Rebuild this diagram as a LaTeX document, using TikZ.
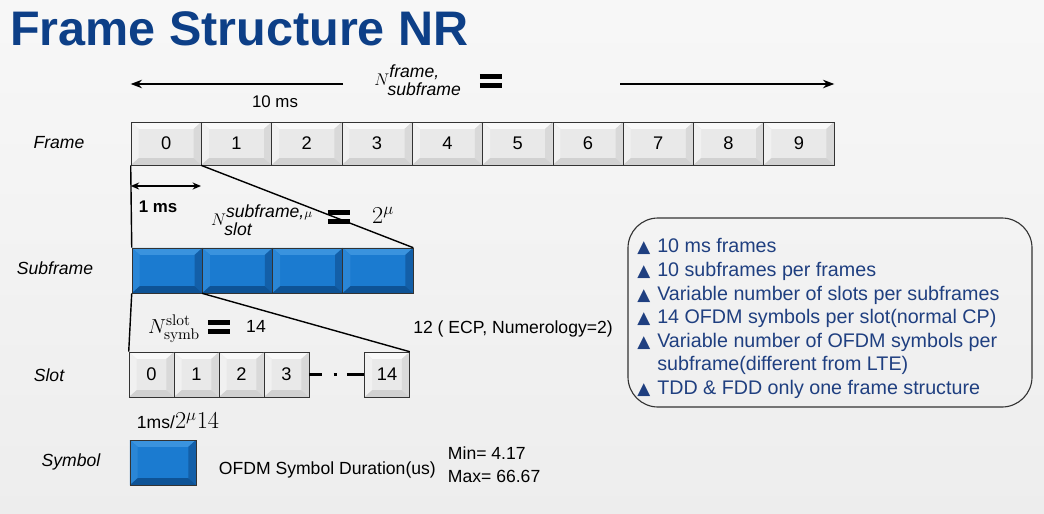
\documentclass[tikz,border=0pt]{standalone}
\usepackage{amsmath}
\usepackage[no-math]{fontspec}
\setmainfont{Liberation Sans}
\newfontfamily\symfont{DejaVu Sans}
\usetikzlibrary{arrows.meta}
\definecolor{titleblue}{HTML}{0D3F87}
\definecolor{listblue}{HTML}{1F3F80}
\definecolor{bluetop}{HTML}{3A93DE}
\definecolor{blueleft}{HTML}{2A86D6}
\definecolor{blueface}{HTML}{1B7BD0}
\definecolor{blueright}{HTML}{135FA8}
\definecolor{bluebottom}{HTML}{0E5396}
\newcommand{\heavyeq}{\vbox{\hrule width 16pt height 3.8pt \vskip 2.2pt \hrule width 16pt height 3.8pt}}
\newcommand{\tri}{{\symfont\fontsize{12}{12}\selectfont ▲}}
\tikzset{%
  bevel/.style n args={5}{
    draw=black!80,
    fill=#3,
    inner sep=0pt,
    path picture={
      \coordinate (bNW) at (path picture bounding box.north west);
      \coordinate (bNE) at (path picture bounding box.north east);
      \coordinate (bSE) at (path picture bounding box.south east);
      \coordinate (bSW) at (path picture bounding box.south west);
      \coordinate (iNW) at ([shift={(0.19cm,-0.17cm)}]bNW);
      \coordinate (iNE) at ([shift={(-0.19cm,-0.17cm)}]bNE);
      \coordinate (iSE) at ([shift={(-0.19cm,0.17cm)}]bSE);
      \coordinate (iSW) at ([shift={(0.19cm,0.17cm)}]bSW);
      \fill[#1] (bNW) -- (bNE) -- (iNE) -- (iNW) -- cycle;
      \fill[#2] (bNW) -- (iNW) -- (iSW) -- (bSW) -- cycle;
      \fill[#4] (bNE) -- (bSE) -- (iSE) -- (iNE) -- cycle;
      \fill[#5] (bSW) -- (iSW) -- (iSE) -- (bSE) -- cycle;
    }
  },
  graycell/.style={
    bevel={gray!5}{gray!11}{gray!17}{gray!30}{gray!36},
    font=\fontsize{13}{15}\selectfont
  },
  bluecell/.style={
    bevel={bluetop}{blueleft}{blueface}{blueright}{bluebottom}
  },
  rowlabel/.style={
    font=\fontsize{12.5}{15}\selectfont\itshape
  },
  plain/.style={
    font=\fontsize{12.5}{15}\selectfont
  },
}

\begin{document}
\begin{tikzpicture}[x=0.025cm, y=-0.025cm, > = {Stealth[length=8pt,width=6pt]}]
\useasboundingbox (0,0) rectangle (1044,513);
\fill[top color=white!97!black, bottom color=white!93!black] (0,0) rectangle (1044,513);

% title
\node[anchor=base west, inner sep=0pt, text=titleblue,
      font=\fontsize{34.5}{40}\selectfont\bfseries] (title) at (10,45) {Frame Structure NR};

% frame
\node[rowlabel] (lframe) at (59,143) {Frame};
\foreach \i in {0,...,9}
    \node[graycell, minimum width=1.7575cm, minimum height=1.075cm] (f\i) at ({166.15+70.3*\i},143.5) {\i};

\coordinate (arl) at (343,84);
\coordinate (arr) at (620,84);
\draw[line width=1.3pt, ->] (arl) -- (f0.north west |- arl);
\draw[line width=1.3pt, ->] (arr) -- (f9.north east |- arr);
\node[plain, font=\fontsize{12}{14}\selectfont] (tenms) at (275,102) {10 ms};
\node[font=\fontsize{12.5}{15}\selectfont] (nframe) at (418,80)
    {$N^{\mbox{\itshape frame,}}_{\mbox{\itshape subframe}}$};
\node[inner sep=0pt] (eqa) at (491,81) {\heavyeq};

% subframe
\node[rowlabel] (lsub) at (55,268) {Subframe};
\foreach \i in {0,...,3}
    \node[bluecell, minimum width=1.756cm, minimum height=1.125cm] (s\i) at ({167.15+70.25*\i},270.5) {};

\coordinate (onems) at (0,186);
\draw[line width=1.3pt, {Stealth[length=6pt,width=5pt]}-{Stealth[length=6pt,width=5pt]}]
    (f0.south west |- onems) -- (f1.south west |- onems);
\node[font=\fontsize{12}{14}\selectfont\bfseries] (lonems) at (158,207) {1 ms};
\node[font=\fontsize{12.5}{15}\selectfont] (nslot) at (262,220)
    {$N^{\mbox{\itshape subframe,}\mu}_{\mbox{\itshape slot}}$};
\node[inner sep=0pt] (eqb) at (339,217) {\heavyeq};
\node[font=\fontsize{17}{20}\selectfont] (twomu) at (383,215) {$2^{\mu}$};

\draw[line width=1pt] (f0.south west) -- (s0.north west);
\draw[line width=1pt] (f1.south west) -- (s3.north east);

% slot
\node[rowlabel] (lslot) at (49,375) {Slot};
\foreach \i/\x in {0/151.5,1/196.5,2/241.5,3/286.5}
    \node[graycell, minimum width=1.125cm, minimum height=1.125cm] (sl\i) at (\x,374.5) {\i};
\node[graycell, minimum width=1.125cm, minimum height=1.125cm] (sl14) at (387,374.5) {14};
\draw[line width=2pt, dash pattern=on 0.33cm off 0.28cm on 0.08cm off 0.25cm on 0.5cm]
    (sl3.east) -- (sl14.west);

\draw[line width=1pt] (s0.south west) -- (sl0.north west);
\draw[line width=1pt] (s1.south west) -- (sl14.north east);

\node[inner sep=1pt, font=\fontsize{15}{18}\selectfont] (nsymb) at (174,329) {$N^{\mathrm{slot}}_{\mathrm{symb}}$};
\node[inner sep=0pt] (eqc) at (219,327) {\heavyeq};
\node[plain] (fourteen) at (256,326) {14};
\node[plain] (ecp) at (513,329) {12 ( ECP, Numerology=2)};

% symbol
\node[plain] (symdur) at (178,421) {1ms/\fontsize{17}{20}\selectfont$2^{\mu}14$};
\node[rowlabel] (lsym) at (71,462) {Symbol};
\node[bluecell, minimum width=1.65cm, minimum height=1.125cm] (sym) at (163,462.5) {};
\node[plain, anchor=west] (ofdm) at (214,470) {OFDM Symbol Duration(us)};
\node[plain, anchor=west, align=left, font=\fontsize{12.5}{16.5}\selectfont] (minmax) at (443,465)
    {Min= 4.17\\Max= 66.67};

% notes
\draw[line width=0.8pt, black!80, rounded corners=0.75cm] (628,218) rectangle (1032,407);
\node[anchor=north west, inner sep=0pt, text=listblue, font=\fontsize{14}{16.8}\selectfont] (notes) at (637,236)
    {\begin{tabular}{@{}l@{\hspace{5pt}}l@{}}
     \tri & 10 ms frames\\
     \tri & 10 subframes per frames\\
     \tri & Variable number of slots per subframes\\
     \tri & 14 OFDM symbols per slot(normal CP)\\
     \tri & Variable number of OFDM symbols per\\
          & subframe(different from LTE)\\
     \tri & TDD \& FDD only one frame structure
     \end{tabular}};
\end{tikzpicture}
\end{document}
